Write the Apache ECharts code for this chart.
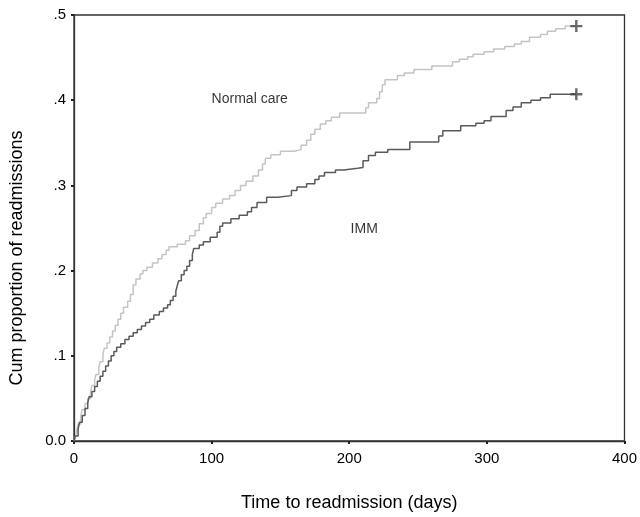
<!DOCTYPE html>
<html>
<head>
<meta charset="utf-8">
<script src="https://cdn.jsdelivr.net/npm/echarts@6/dist/echarts.min.js"></script>
<style>
html,body{margin:0;padding:0;background:#fff;}
#chart{width:640px;height:517px;}
</style>
</head>
<body>
<div id="chart"></div>
<script>
// Tick labels
var xTicks = [0, 100, 200, 300, 400];
var yTickLabels = {'0': '0.0', '0.1': '.1', '0.2': '.2', '0.3': '.3', '0.4': '.4', '0.5': '.5'};

// Normal care: day of event, cumulative proportion
var normalDays = [0,1,2,3,5,6,8,10,12,13,15,16,18,19,21,22,24,26,28,30,32,34,36,39,41,43,45,48,50,53,57,61,64,67,69,75,81,84,88,91,94,96,100,103,108,113,117,121,125,130,134,137,139,143,150,160,165,169,172,175,179,183,187,193,212,214,220,222,224,226,235,240,247,260,275,280,286,290,298,305,313,320,325,331,339,344,350,357,365];
var normalVals = [0,0.005,0.012,0.02,0.03,0.037,0.044,0.05,0.058,0.065,0.072,0.078,0.086,0.093,0.102,0.109,0.115,0.122,0.129,0.136,0.143,0.150,0.157,0.164,0.172,0.183,0.19,0.196,0.200,0.204,0.209,0.214,0.219,0.224,0.228,0.231,0.235,0.241,0.247,0.255,0.262,0.267,0.274,0.279,0.284,0.288,0.294,0.300,0.305,0.311,0.318,0.325,0.332,0.336,0.340,0.342,0.347,0.353,0.360,0.366,0.372,0.376,0.380,0.385,0.391,0.397,0.402,0.410,0.418,0.424,0.429,0.432,0.436,0.440,0.445,0.448,0.451,0.454,0.457,0.460,0.463,0.466,0.469,0.474,0.477,0.481,0.484,0.487,0.487];

// IMM
var immDays = [0,1,3,4,6,8,10,11,13,15,17,19,21,23,25,27,29,31,34,37,40,43,46,49,52,55,58,62,65,68,70,72,74,75,76,78,80,82,84,86,87,91,94,99,104,106,108,114,120,126,129,133,140,148,158,162,169,175,178,182,190,196,206,210,214,219,228,244,265,268,281,292,298,303,314,319,325,332,339,346,365];
var immVals = [0,0.006,0.014,0.022,0.03,0.038,0.045,0.052,0.058,0.064,0.07,0.076,0.082,0.088,0.094,0.1,0.105,0.11,0.114,0.119,0.123,0.127,0.131,0.135,0.139,0.143,0.148,0.152,0.156,0.160,0.165,0.170,0.176,0.182,0.188,0.195,0.200,0.205,0.212,0.219,0.226,0.230,0.234,0.239,0.245,0.252,0.256,0.261,0.265,0.269,0.274,0.280,0.286,0.288,0.294,0.298,0.302,0.307,0.311,0.315,0.318,0.320,0.321,0.329,0.335,0.339,0.342,0.351,0.358,0.364,0.370,0.373,0.376,0.381,0.388,0.392,0.397,0.400,0.403,0.407,0.407];

// Censored observations (end of follow-up)
var censorDays = [365, 365];
var censorVals = [0.487, 0.407];

// Curve labels
var labelNames = ['Normal care', 'IMM'];
var labelDays = [100, 201];
var labelVals = [0.401, 0.249];

function zip(a, b) { return a.map(function (v, i) { return [v, b[i]]; }); }

var chart = echarts.init(document.getElementById('chart'), null, {renderer: 'canvas'});
var FONT = 'Liberation Sans, Arial, Helvetica, sans-serif';
chart.setOption({
  animation: false,
  backgroundColor: '#ffffff',
  textStyle: {fontFamily: FONT},
  grid: {left: 74, right: 13, top: 15, bottom: 73, show: true, borderColor: '#333', borderWidth: 1.3, backgroundColor: 'transparent'},
  xAxis: {
    type: 'value', min: xTicks[0], max: xTicks[xTicks.length - 1], interval: 100,
    name: 'Time to readmission (days)', nameLocation: 'middle', nameGap: 53,
    nameTextStyle: {fontSize: 18, color: '#000', fontFamily: FONT},
    axisLine: {show: true, lineStyle: {color: '#333', width: 1.3}},
    axisTick: {show: true, length: 3, lineStyle: {color: '#222', width: 2}},
    axisLabel: {fontSize: 15, color: '#000', margin: 10, fontFamily: FONT},
    splitLine: {show: false}
  },
  yAxis: {
    type: 'value', min: 0, max: 0.5, interval: 0.1,
    name: 'Cum proportion of readmissions', nameLocation: 'middle', nameGap: 48, nameRotate: 90,
    nameTextStyle: {fontSize: 18, color: '#000', fontFamily: FONT, padding: [0, 60, 0, 0]},
    axisLine: {show: true, lineStyle: {color: '#333', width: 1.3}},
    axisTick: {show: true, length: 3, lineStyle: {color: '#222', width: 2}},
    axisLabel: {fontSize: 15, color: '#000', margin: 8, fontFamily: FONT,
      formatter: function (v) { var k = String(Math.round(v * 10) / 10); return yTickLabels[k] !== undefined ? yTickLabels[k] : k; }},
    splitLine: {show: false}
  },
  series: [
    {
      name: 'Normal care', type: 'line', step: 'end', showSymbol: false,
      data: zip(normalDays, normalVals),
      lineStyle: {color: '#c4c4c4', width: 1.5}, z: 2
    },
    {
      name: 'IMM', type: 'line', step: 'end', showSymbol: false,
      data: zip(immDays, immVals),
      lineStyle: {color: '#5a5a5a', width: 1.5}, z: 3
    },
    {
      name: 'Censored', type: 'scatter',
      symbol: 'path://M4,0 H6 V4 H10 V6 H6 V10 H4 V6 H0 V4 H4 Z', symbolSize: 12,
      itemStyle: {color: '#444'},
      data: zip(censorDays, censorVals), z: 4
    },
    {
      name: 'Labels', type: 'scatter', symbolSize: 0,
      data: labelDays.map(function (d, i) { return {value: [d, labelVals[i]], name: labelNames[i]}; }),
      label: {show: true, position: 'right', distance: 0, formatter: '{b}', fontSize: 14, color: '#000', fontFamily: FONT},
      z: 5
    }
  ]
});
</script>
</body>
</html>
